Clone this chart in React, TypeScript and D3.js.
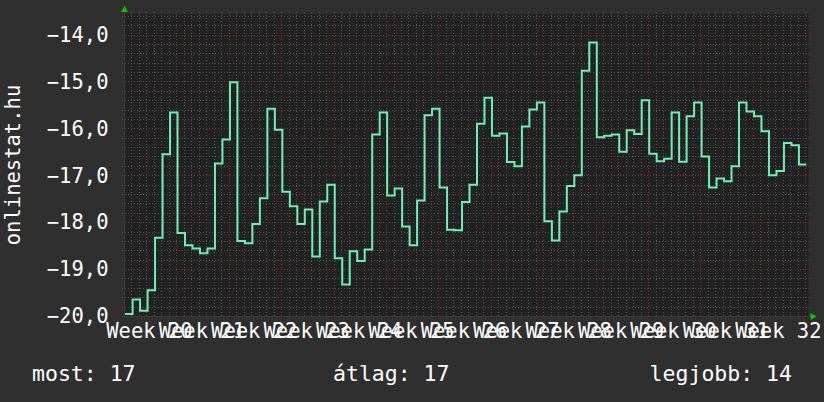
import * as d3 from "d3";

// daily values (rank, shown negated)
const values: number[] = [
  -19.96, -19.65, -19.89, -19.45, -18.33, -16.55, -15.66, -18.23, -18.49, -18.56,
  -18.66, -18.56, -16.75, -16.24, -15.02, -18.40, -18.45, -18.04, -17.49, -15.58,
  -16.03, -17.35, -17.66, -18.04, -17.73, -18.73, -17.56, -17.20, -18.77, -19.33,
  -18.62, -18.83, -18.58, -16.13, -15.66, -17.43, -17.28, -18.09, -18.49, -17.54,
  -15.72, -15.58, -17.26, -18.16, -18.17, -17.57, -17.20, -15.90, -15.35, -16.16,
  -16.11, -16.72, -16.81, -15.96, -15.60, -15.45, -17.98, -18.39, -17.77, -17.23,
  -17.00, -14.77, -14.17, -16.19, -16.16, -16.13, -16.50, -16.04, -16.12, -15.40,
  -16.54, -16.70, -16.65, -15.66, -16.71, -15.74, -15.45, -16.60, -17.26, -17.07,
  -17.13, -16.81, -15.45, -15.64, -15.74, -16.06, -17.00, -16.91, -16.31, -16.36,
  -16.77,
];

const weeks = [20, 21, 22, 23, 24, 25, 26, 27, 28, 29, 30, 31, 32];
const yTicks = [-20, -19, -18, -17, -16, -15, -14];
const yTitle = "onlinestat.hu";
const legend = ["most: 17", "átlag: 17", "legjobb: 14"];

const W = 824;
const H = 402;
const plot = { left: 124, right: 808.5, top: 14, bottom: 316 };
const FONT = "'DejaVu Sans Mono', monospace";

export default function App() {
  const x = d3.scaleLinear().domain([0, 91.43]).range([plot.left, plot.right]);
  const y = d3.scaleLinear().domain([-20, -14]).range([plot.bottom, 34.5]);
  const yTop = y.invert(plot.top);

  // step path: each value holds for one day
  const pts: [number, number][] = [];
  values.forEach((v, i) => {
    pts.push([i + 0.15, v]);
    pts.push([i + 1.15, v]);
  });
  const line = d3
    .line<[number, number]>()
    .x((d) => x(d[0]))
    .y((d) => y(d[1]));

  const minorY = d3.range(-20, yTop, 0.2).filter((v) => Math.abs(v - Math.round(v)) > 0.01);
  const days = d3.range(1, 92).filter((d) => d % 7 !== 0);
  const weekDay = (w: number) => (w - 19) * 7;

  return (
    <svg
      width={W}
      height={H}
      style={{ position: "absolute", left: 0, top: 0, display: "block" }}
      fontFamily={FONT}
    >
      <rect width={W} height={H} fill="#2f2f2f" />
      <rect
        x={plot.left}
        y={plot.top}
        width={plot.right - plot.left}
        height={plot.bottom - plot.top}
        fill="#222222"
      />

      {/* minor grid */}
      <g stroke="#505050" strokeWidth={1} strokeDasharray="1,2">
        {minorY.map((v) => (
          <line key={"my" + v} x1={plot.left - 2} x2={plot.right + 2} y1={Math.round(y(v)) + 0.5} y2={Math.round(y(v)) + 0.5} />
        ))}
        {days.map((d) => (
          <line key={"mx" + d} x1={Math.round(x(d)) + 0.5} x2={Math.round(x(d)) + 0.5} y1={plot.top - 2} y2={plot.bottom + 2} />
        ))}
      </g>

      {/* major grid */}
      <g stroke="#7a3232" strokeWidth={1} strokeDasharray="1,2">
        {yTicks.slice(1).map((v) => (
          <line key={"Y" + v} x1={plot.left - 2} x2={plot.right + 2} y1={Math.round(y(v)) + 0.5} y2={Math.round(y(v)) + 0.5} />
        ))}
        {weeks.map((w) => (
          <line key={"X" + w} x1={Math.round(x(weekDay(w))) + 0.5} x2={Math.round(x(weekDay(w))) + 0.5} y1={plot.top - 2} y2={plot.bottom + 2} />
        ))}
      </g>

      {/* axes */}
      <line x1={plot.left - 2} x2={plot.right + 2} y1={plot.bottom + 0.5} y2={plot.bottom + 0.5} stroke="#3c3c3c" />
      <line x1={plot.left + 0.5} x2={plot.left + 0.5} y1={plot.top - 2} y2={plot.bottom + 2} stroke="#3c3c3c" />
      <path d={`M${plot.left - 3},${plot.top - 2}L${plot.left + 4},${plot.top - 2}L${plot.left + 0.5},${plot.top - 8}Z`} fill="#00cc00" />
      <path d={`M${plot.right + 2},${plot.bottom - 3}L${plot.right + 2},${plot.bottom + 4}L${plot.right + 8},${plot.bottom + 0.5}Z`} fill="#00cc00" />

      {/* data */}
      <path d={line(pts) ?? ""} fill="none" stroke="#6ef0b4" strokeWidth={2} strokeLinejoin="miter" />

      {/* y tick labels */}
      <g fill="#ffffff" fontSize={20.5} textAnchor="end">
        {yTicks.map((v) => (
          <text key={"yl" + v} x={108.5} y={y(v) + 7.3}>
            {d3.format(".1f")(v).replace(".", ",")}
          </text>
        ))}
      </g>

      {/* x labels */}
      <g fill="#ffffff" fontSize={20.5} textAnchor="middle">
        {weeks.map((w) => (
          <text key={"xl" + w} x={x(weekDay(w) - 3.6)} y={338}>
            {`Week ${w}`}
          </text>
        ))}
      </g>

      <text
        transform={`translate(19.5,${(plot.top + plot.bottom) / 2}) rotate(-90)`}
        textAnchor="middle"
        fill="#ffffff"
        fontSize={20.5}
      >
        {yTitle}
      </text>

      <g fill="#ffffff" fontSize={21.5}>
        <text x={32} y={381}>{legend[0]}</text>
        <text x={333} y={381}>{legend[1]}</text>
        <text x={792} y={381} textAnchor="end">{legend[2]}</text>
      </g>
    </svg>
  );
}
